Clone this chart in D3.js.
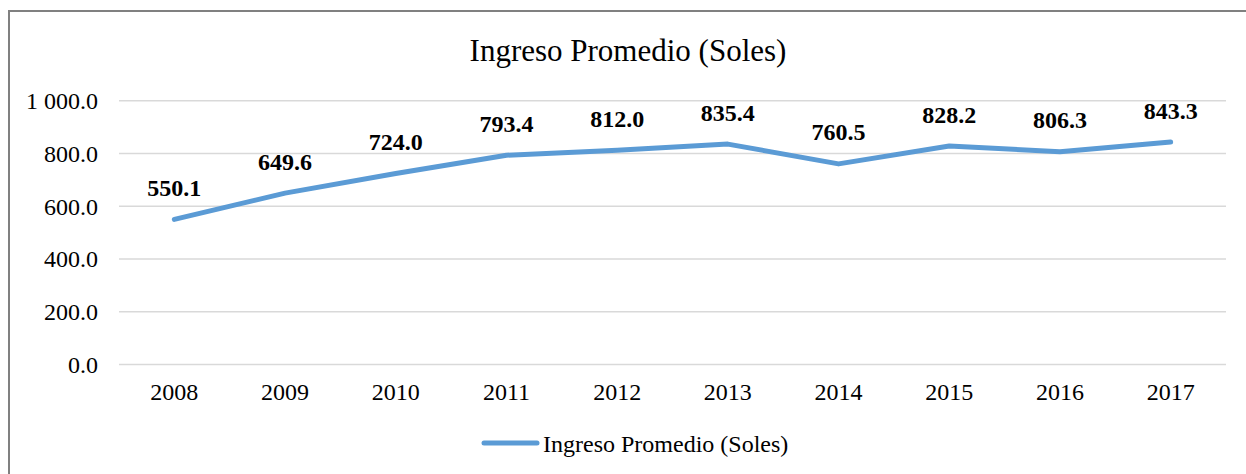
<!DOCTYPE html>
<html>
<head>
<meta charset="utf-8">
<script src="https://cdn.jsdelivr.net/npm/d3@7"></script>
<style>
html,body{margin:0;padding:0;background:#fff;}
svg{display:block;}
text{font-family:"Liberation Serif","Times New Roman",serif;fill:#000;}
</style>
</head>
<body>
<svg id="chart" width="1246" height="474"></svg>
<script>
const years = ["2008","2009","2010","2011","2012","2013","2014","2015","2016","2017"];
const ingreso = [550.1, 649.6, 724.0, 793.4, 812.0, 835.4, 760.5, 828.2, 806.3, 843.3];
const yTicks = [0, 200, 400, 600, 800, 1000];
const chartTitle = "Ingreso Promedio (Soles)";
const seriesName = "Ingreso Promedio (Soles)";

const svg = d3.select("#chart");
const W = 1246, H = 474;
const plot = {left: 119, right: 1226, top: 100.7, bottom: 364.5};

svg.append("rect").attr("x",0).attr("y",0).attr("width",W).attr("height",H).attr("fill","#fff");
svg.append("rect").attr("x",9).attr("y",11).attr("width",1250).attr("height",480)
  .attr("fill","none").attr("stroke","#808080").attr("stroke-width",2);

const x = d3.scaleBand().domain(years).range([plot.left, plot.right]);
const y = d3.scaleLinear().domain([0,1000]).range([plot.bottom, plot.top]);

const fmt = v => {
  const s = d3.format(",.1f")(v);
  return s.replace(/,/g, " ");
};

// gridlines
svg.append("g").selectAll("line").data(yTicks).join("line")
  .attr("x1", plot.left).attr("x2", plot.right)
  .attr("y1", d=>y(d)).attr("y2", d=>y(d))
  .attr("stroke","#d9d9d9").attr("stroke-width",1.5);

// y axis labels
const yAxis = d3.axisLeft(y).tickValues(yTicks).tickFormat(fmt).tickSize(0).tickPadding(21);
const gy = svg.append("g").attr("transform",`translate(${plot.left},0)`).call(yAxis);
gy.select(".domain").remove();
gy.selectAll("text").attr("font-size",24).attr("font-family","Liberation Serif").attr("fill","#000").attr("dy","0.33em");

// x axis labels
const xAxis = d3.axisBottom(x).tickSize(0).tickPadding(0);
const gx = svg.append("g").attr("transform",`translate(0,${plot.bottom})`).call(xAxis);
gx.select(".domain").remove();
gx.selectAll("text").attr("font-size",24).attr("font-family","Liberation Serif").attr("fill","#000")
  .attr("dy",null).attr("y",35.5);

// line
const cx = d => x(d) + x.bandwidth()/2;
const line = d3.line().x((d,i)=>cx(years[i])).y(d=>y(d));
svg.append("path").datum(ingreso).attr("d",line)
  .attr("fill","none").attr("stroke","#5b9bd5").attr("stroke-width",5)
  .attr("stroke-linejoin","round").attr("stroke-linecap","round");

// data labels
svg.append("g").selectAll("text").data(ingreso).join("text")
  .attr("x",(d,i)=>cx(years[i])).attr("y",d=>y(d)-23.5)
  .attr("text-anchor","middle").attr("font-size",24).attr("font-weight","bold")
  .text(d=>fmt(d));

// title
svg.append("text").attr("x",628).attr("y",61).attr("text-anchor","middle")
  .attr("font-size",31).text(chartTitle);

// legend
svg.append("line").attr("x1",484).attr("x2",537).attr("y1",443).attr("y2",443)
  .attr("stroke","#5b9bd5").attr("stroke-width",5).attr("stroke-linecap","round");
svg.append("text").attr("x",543).attr("y",451.5).attr("font-size",24).text(seriesName);
</script>
</body>
</html>
